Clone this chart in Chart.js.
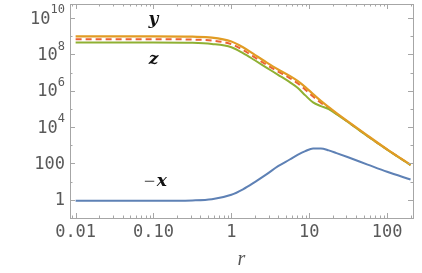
<!DOCTYPE html>
<html>
<head>
<meta charset="utf-8">
<script src="https://cdn.jsdelivr.net/npm/chart.js@4/dist/chart.umd.min.js"></script>
<style>
html,body{margin:0;padding:0;background:#fff;}
#c{display:block;}
</style>
</head>
<body>
<canvas id="c" width="422" height="273"></canvas>
<script>
// ---- data ----
const rValues = [0.01, 0.0316, 0.1, 0.316, 0.562, 1, 1.41, 2.0, 2.82, 3.98, 5.62, 7.08, 8.91, 11.2, 14.1, 17.8, 22.4, 31.6, 56.2, 100, 200];
const ySeries = [1.0e9, 1.0e9, 1.0e9, 9.5e8, 8.5e8, 5.2e8, 2.5e8, 9.5e7, 3.7e7, 1.5e7, 6.6e6, 3.5e6, 1.6e6, 6.6e5, 2.8e5, 1.26e5, 5.9e4, 2.0e4, 3.4e3, 600, 85];
const dashSeries = [6.9e8, 6.9e8, 6.9e8, 6.6e8, 5.9e8, 3.7e8, 1.8e8, 6.9e7, 2.75e7, 1.15e7, 5.0e6, 2.6e6, 1.15e6, 4.8e5, 2.2e5, 1.07e5, 5.4e4, 1.9e4, 3.2e3, 590, 83];
const zSeries = [4.6e8, 4.6e8, 4.6e8, 4.4e8, 3.8e8, 2.5e8, 1.2e8, 4.8e7, 1.9e7, 7.6e6, 3.0e6, 1.48e6, 5.6e5, 2.3e5, 1.45e5, 9.8e4, 5.2e4, 1.86e4, 3.16e3, 575, 81];
const negXSeries = [0.89, 0.89, 0.89, 0.93, 1.07, 1.9, 3.8, 9.5, 25, 71, 166, 295, 479, 676, 676, 525, 372, 219, 87, 35, 13.2];

const xTickValues = [0.01, 0.1, 1, 10, 100];
const xTickLabels = ['0.01', '0.10', '1', '10', '100'];
const yTickValues = [1, 100, 1e4, 1e6, 1e8, 1e10];
const yTickBase = ['1', '100', '10', '10', '10', '10'];
const yTickExp = ['', '', '4', '6', '8', '10'];

const curveLabels = ['y', 'z', 'x'];
const curveLabelPrefix = ['', '', '\u2212'];
const curveLabelR = [0.1, 0.1, 0.105];
const curveLabelV = [8e9, 5e7, 10];

const xMin = 0.00847, xMax = 215, yMin = 0.1, yMax = 6e10;

const tickFont = {family: 'DejaVu Sans Mono', size: 17, weight: 'normal'};
const tickColor = '#595959';
const frameColor = '#a6a6a6';

function pts(vals){ return rValues.map((r,i)=>({x:r, y:vals[i]})); }

const framePlugin = {
  id: 'frame',
  afterDraw(chart){
    const ctx = chart.ctx, a = chart.chartArea;
    const xs = chart.scales.x, ys = chart.scales.y;
    ctx.save();
    ctx.strokeStyle = frameColor;
    ctx.lineWidth = 1;
    ctx.strokeRect(Math.round(a.left)+0.5, Math.round(a.top)+0.5, Math.round(a.right-a.left), Math.round(a.bottom-a.top));
    ctx.beginPath();
    for (let d = -3; d <= 3; d++) {
      for (let k = 1; k <= 9; k++) {
        const v = k * Math.pow(10, d);
        if (v < xMin || v > xMax) continue;
        const px = Math.round(xs.getPixelForValue(v)) + 0.5;
        const len = k === 1 ? 5 : 2.5;
        ctx.moveTo(px, a.bottom); ctx.lineTo(px, a.bottom - len);
        ctx.moveTo(px, a.top); ctx.lineTo(px, a.top + len);
      }
    }
    for (let d = -1; d <= 11; d++) {
      const v = Math.pow(10, d);
      if (v < yMin || v > yMax) continue;
      const py = Math.round(ys.getPixelForValue(v)) + 0.5;
      const len = d % 2 === 0 ? 5 : 2.5;
      ctx.moveTo(a.left, py); ctx.lineTo(a.left + len, py);
      ctx.moveTo(a.right, py); ctx.lineTo(a.right - len, py);
    }
    ctx.stroke();
    // y tick labels with superscript exponents
    ctx.fillStyle = tickColor;
    ctx.textBaseline = 'middle';
    ctx.textAlign = 'right';
    const baseFont = '17px "DejaVu Sans Mono"';
    const expFont = '12px "DejaVu Sans Mono"';
    yTickValues.forEach((v,i)=>{
      const py = ys.getPixelForValue(v);
      let x = a.left - 5;
      if (yTickExp[i]) {
        ctx.font = expFont;
        ctx.fillText(yTickExp[i], x, py - 8);
        x -= ctx.measureText(yTickExp[i]).width;
      }
      ctx.font = baseFont;
      ctx.fillText(yTickBase[i], x, py + 1);
    });
    // curve labels
    ctx.textAlign = 'left';
    curveLabels.forEach((t,i)=>{
      const cx = xs.getPixelForValue(curveLabelR[i]);
      const cy = ys.getPixelForValue(curveLabelV[i]);
      ctx.font = 'italic bold 17px "DejaVu Serif"';
      const wMain = ctx.measureText(t).width;
      ctx.font = '15px "DejaVu Sans"';
      const wPre = curveLabelPrefix[i] ? ctx.measureText(curveLabelPrefix[i]).width + 1 : 0;
      const x0 = cx - (wMain + wPre) / 2;
      if (curveLabelPrefix[i]) {
        ctx.fillStyle = '#666';
        ctx.fillText(curveLabelPrefix[i], x0, cy);
      }
      ctx.fillStyle = '#111';
      ctx.font = 'italic bold 17px "DejaVu Serif"';
      ctx.fillText(t, x0 + wPre, cy);
    });
    ctx.restore();
  }
};

const lineOpts = {pointRadius: 0, cubicInterpolationMode: 'monotone', fill: false};

new Chart(document.getElementById('c'), {
  type: 'line',
  data: {
    datasets: [
      Object.assign({label: '-x', data: pts(negXSeries), borderColor: '#5E81B5', borderWidth: 2}, lineOpts),
      Object.assign({label: 'y', data: pts(ySeries), borderColor: '#E19C24', borderWidth: 2.2}, lineOpts),
      Object.assign({label: 'z', data: pts(zSeries), borderColor: '#8FB032', borderWidth: 2}, lineOpts),
      Object.assign({label: 'y (dashed)', data: pts(dashSeries), borderColor: '#EB6235', borderWidth: 2, borderDash: [6, 4]}, lineOpts)
    ]
  },
  options: {
    responsive: false,
    animation: false,
    devicePixelRatio: 1,
    layout: {padding: {top: 4, right: 9, left: 0, bottom: 0}},
    plugins: {legend: {display: false}, tooltip: {enabled: false}},
    scales: {
      x: {
        type: 'logarithmic', min: xMin, max: xMax,
        grid: {display: false, drawTicks: false},
        border: {display: false},
        afterBuildTicks(s){ s.ticks = xTickValues.map(v=>({value: v})); },
        afterFit(s){ s.height = 55; },
        ticks: {
          autoSkip: false, maxRotation: 0, padding: 4,
          font: tickFont, color: tickColor,
          callback(v){ const i = xTickValues.indexOf(v); return i >= 0 ? xTickLabels[i] : ''; }
        },
        title: {display: true, text: 'r', color: '#555', font: {family: 'Liberation Serif', size: 20, style: 'italic'}, padding: {top: 0, bottom: 1}}
      },
      y: {
        type: 'logarithmic', min: yMin, max: yMax,
        grid: {display: false, drawTicks: false},
        border: {display: false},
        afterBuildTicks(s){ s.ticks = yTickValues.map(v=>({value: v})); },
        afterFit(s){ s.width = 70; },
        ticks: {display: false}
      }
    }
  },
  plugins: [framePlugin]
});
</script>
</body>
</html>
